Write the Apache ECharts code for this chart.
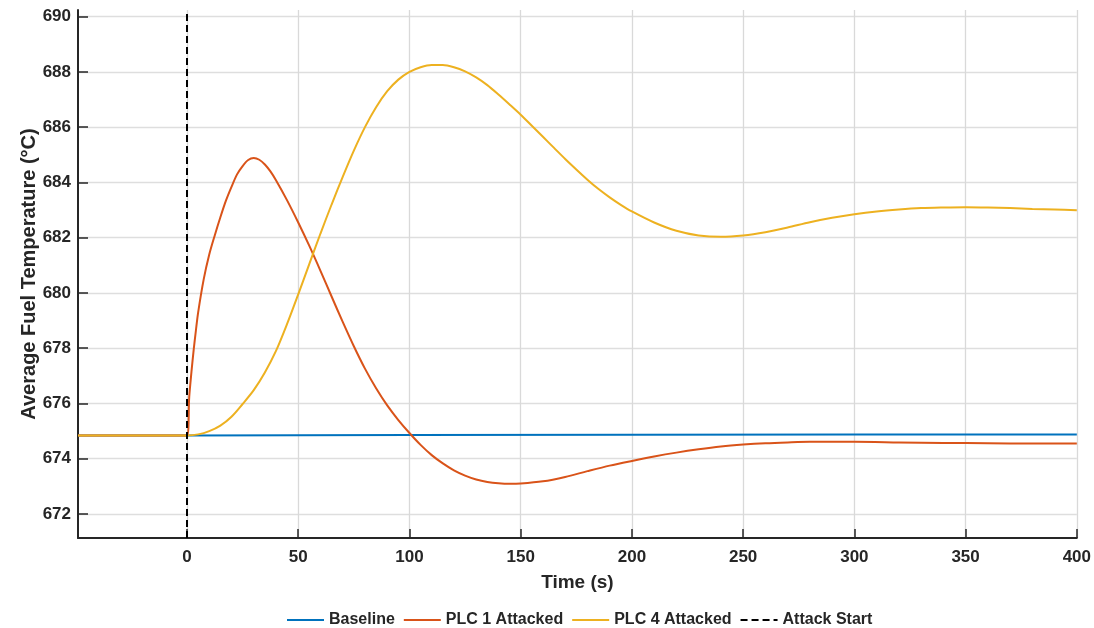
<!DOCTYPE html>
<html>
<head>
<meta charset="utf-8">
<script src="https://cdn.jsdelivr.net/npm/echarts@6/dist/echarts.min.js"></script>
<style>
  html, body { margin: 0; padding: 0; background: #ffffff; }
  #chart { width: 1094px; height: 628px; }
</style>
</head>
<body>
<div id="chart"></div>
<script>
// ---- Data ----
const xTicks = [0, 50, 100, 150, 200, 250, 300, 350, 400];
const yTicks = [672, 674, 676, 678, 680, 682, 684, 686, 688, 690];
const attackStart = 0;

const baselineT = [-49, 0, 100, 200, 300, 400];
const baselineV = [674.84, 674.84, 674.86, 674.87, 674.88, 674.88];

const plc1T = [-49, -5, 0, 1, 2, 3, 4, 5, 7.5, 10, 12.5, 15, 17.5, 20, 22.5, 25, 27.5, 30, 32.5, 35, 37.5, 40, 45, 50, 55, 60, 65, 70, 75, 80, 85, 90, 95, 100, 105, 110, 115, 120, 125, 130, 135, 140, 145, 150, 160, 170, 180, 190, 200, 210, 220, 230, 240, 250, 260, 270, 280, 290, 300, 320, 340, 360, 380, 400];
const plc1V = [674.84, 674.84, 674.84, 676.24, 677.14, 677.94, 678.64, 679.29, 680.49, 681.39, 682.09, 682.74, 683.34, 683.84, 684.29, 684.59, 684.81, 684.88, 684.82, 684.65, 684.4, 684.08, 683.35, 682.55, 681.7, 680.8, 679.87, 678.95, 678.07, 677.26, 676.55, 675.93, 675.4, 674.93, 674.5, 674.13, 673.83, 673.58, 673.39, 673.25, 673.16, 673.11, 673.09, 673.1, 673.18, 673.34, 673.55, 673.75, 673.92, 674.08, 674.22, 674.34, 674.44, 674.51, 674.56, 674.59, 674.61, 674.61, 674.61, 674.59, 674.57, 674.56, 674.55, 674.55];

const plc4T = [-49, -5, 0, 5, 10, 15, 20, 25, 30, 35, 40, 45, 50, 55, 60, 65, 70, 75, 80, 85, 90, 95, 100, 105, 110, 115, 120, 125, 130, 135, 140, 145, 150, 155, 160, 165, 170, 175, 180, 185, 190, 195, 200, 210, 220, 230, 240, 250, 260, 270, 280, 290, 300, 310, 320, 330, 340, 350, 360, 370, 380, 390, 400];
const plc4V = [674.84, 674.84, 674.84, 674.88, 675.0, 675.2, 675.52, 675.98, 676.48, 677.12, 677.9, 678.88, 679.95, 681.05, 682.15, 683.2, 684.2, 685.15, 686.0, 686.72, 687.3, 687.72, 688.0, 688.17, 688.25, 688.25, 688.17, 688.02, 687.8, 687.52, 687.18, 686.82, 686.45, 686.05, 685.65, 685.25, 684.85, 684.47, 684.1, 683.76, 683.46, 683.19, 682.95, 682.55, 682.25, 682.08, 682.03, 682.08, 682.2, 682.37, 682.56, 682.72, 682.85, 682.95, 683.02, 683.07, 683.09, 683.1, 683.09, 683.07, 683.04, 683.02, 682.99];

function pairs(t, v) { return t.map((x, i) => [x, v[i]]); }

const FONT = "'Liberation Sans', Arial, Helvetica, sans-serif";
const TXT = '#262626';

const chart = echarts.init(document.getElementById('chart'), null, { renderer: 'canvas' });

const option = {
  backgroundColor: '#ffffff',
  animation: false,
  grid: { left: 78, right: 15, top: 10, bottom: 90, containLabel: false },
  legend: {
    left: 281,
    top: 607,
    itemWidth: 37,
    itemHeight: 14,
    itemGap: 8,
    itemStyle: { opacity: 0 },
    textStyle: { fontFamily: FONT, fontWeight: 'bold', fontSize: 16, color: TXT },
    data: ['Baseline', 'PLC 1 Attacked', 'PLC 4 Attacked', 'Attack Start']
  },
  xAxis: {
    type: 'value',
    min: -49,
    max: 400,
    name: 'Time (s)',
    nameLocation: 'middle',
    nameGap: 35,
    nameMoveOverlap: false,
    nameTextStyle: { fontFamily: FONT, fontWeight: 'bold', fontSize: 19, color: TXT },
    axisLine: { show: true, onZero: false, lineStyle: { color: TXT, width: 2 } },
    axisTick: { show: true, inside: true, length: 9, customValues: xTicks, lineStyle: { color: TXT, width: 1.5 } },
    axisLabel: { customValues: xTicks, margin: 11, fontFamily: FONT, fontWeight: 'bold', fontSize: 17, color: TXT },
    splitLine: { show: true, lineStyle: { color: '#d9d9d9', width: 1.3 } }
  },
  yAxis: {
    type: 'value',
    min: 671.13,
    max: 690.24,
    name: 'Average Fuel Temperature (°C)',
    nameLocation: 'middle',
    nameGap: 39,
    nameMoveOverlap: false,
    nameTextStyle: { fontFamily: FONT, fontWeight: 'bold', fontSize: 20, color: TXT },
    axisLine: { show: true, onZero: false, lineStyle: { color: TXT, width: 2 } },
    axisTick: { show: true, inside: true, length: 10, customValues: yTicks, lineStyle: { color: TXT, width: 1.5 } },
    axisLabel: { customValues: yTicks, margin: 7, fontFamily: FONT, fontWeight: 'bold', fontSize: 17, color: TXT },
    splitLine: { show: true, lineStyle: { color: '#dedede', width: 1.3 } }
  },
  series: [
    {
      name: 'Baseline', type: 'line', symbol: 'none', smooth: false,
      data: pairs(baselineT, baselineV),
      lineStyle: { color: '#0072BD', width: 2 }, itemStyle: { color: '#0072BD' }
    },
    {
      name: 'PLC 1 Attacked', type: 'line', symbol: 'none', smooth: 0.3,
      data: pairs(plc1T, plc1V),
      lineStyle: { color: '#D95319', width: 2 }, itemStyle: { color: '#D95319' }
    },
    {
      name: 'PLC 4 Attacked', type: 'line', symbol: 'none', smooth: 0.3,
      data: pairs(plc4T, plc4V),
      lineStyle: { color: '#EDB120', width: 2 }, itemStyle: { color: '#EDB120' }
    },
    {
      name: 'Attack Start', type: 'line', symbol: 'none',
      data: [],
      lineStyle: { color: '#000000', width: 2, type: [7, 4] }, itemStyle: { color: '#000000' },
      markLine: {
        silent: true, symbol: 'none', animation: false,
        label: { show: false },
        lineStyle: { color: '#000000', width: 2, type: [7, 4] },
        emphasis: { disabled: true },
        data: [{ xAxis: attackStart }]
      }
    }
  ]
};
chart.setOption(option);
</script>
</body>
</html>
